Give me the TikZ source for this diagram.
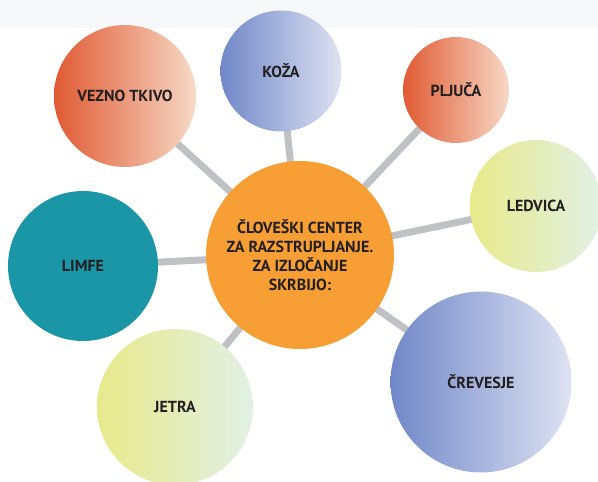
\documentclass[tikz,border=0pt]{standalone}
\usepackage{fontspec}
\setmainfont{PT Sans}
\usetikzlibrary{backgrounds}
\definecolor{ink}{HTML}{231F20}
\definecolor{spoke}{HTML}{C0C1C5}
\definecolor{orng}{HTML}{F79F34}
\definecolor{redL}{HTML}{E05A33}
\definecolor{redR}{HTML}{F7D9C6}
\definecolor{bluL}{HTML}{7088C8}
\definecolor{bluR}{HTML}{DEE2F2}
\definecolor{ylwL}{HTML}{E7EA8A}
\definecolor{ylwR}{HTML}{E2F0E6}
\definecolor{teal}{HTML}{1B96A6}
\definecolor{band}{HTML}{F7F8FA}
\begin{document}
\begin{tikzpicture}[x=1pt,y=-1pt,
    organ/.style={circle,inner sep=0pt,text=ink,font=\bfseries\fontsize{16}{19}\selectfont,align=center},
    redball/.style={organ,left color=redL,right color=redR},
    blueball/.style={organ,left color=bluL,right color=bluR},
    greenball/.style={organ,left color=ylwL,right color=ylwR},
    spokeline/.style={draw=spoke,line width=7pt}]
\useasboundingbox (0,0) rectangle (598,482);
\fill[band] (0,0) rectangle (598,28);
% centre
\node[organ,fill=orng,minimum size=188pt] (hub) at (300,255) {ČLOVEŠKI CENTER\\ZA RAZSTRUPLJANJE.\\ZA IZLOČANJE\\SKRBIJO:};
% organs round it
\node[redball,minimum size=142pt] (vezno) at (125,96) {VEZNO TKIVO};
\node[blueball,minimum size=121pt] (koza) at (281,71) {KOŽA};
\node[redball,minimum size=106pt] (pljuca) at (456,90) {PLJUČA};
\node[greenball,minimum size=132pt] (ledvica) at (536,206) {LEDVICA};
\node[organ,fill=teal,minimum size=150pt] (limfe) at (83,266) {LIMFE};
\node[greenball,minimum size=156pt] (jetra) at (175,407) {JETRA};
\node[blueball,minimum size=181pt] (crevesje) at (481,382) {ČREVESJE};
\begin{scope}[on background layer]
\foreach \o in {vezno,koza,pljuca,ledvica,limfe,jetra,crevesje}
    \draw[spokeline] (hub.center) -- (\o.center);
\end{scope}
\end{tikzpicture}
\end{document}
